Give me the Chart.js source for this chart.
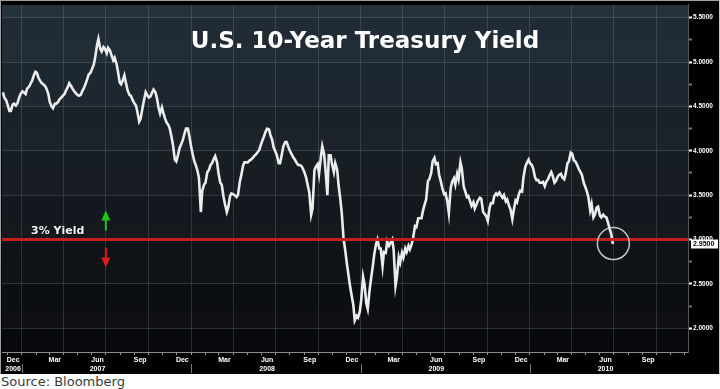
<!DOCTYPE html>
<html><head><meta charset="utf-8">
<script src="https://cdn.jsdelivr.net/npm/chart.js@4.4.1/dist/chart.umd.min.js"></script>
<style>
html,body{margin:0;padding:0;background:#fff;}
#wrap{position:relative;width:720px;height:374px;background:#000;}
#src{font-family:"DejaVu Sans",sans-serif;font-size:13px;color:#3a3a3a;margin:0;padding:0 0 0 1px;line-height:15px;height:15px;white-space:nowrap;}
</style></head><body>
<div id="wrap"><canvas id="c"></canvas></div>
<div id="src">Source: Bloomberg</div>
<script>
// ---------- data ----------
// week-ending Fridays; each week has a mid-week (Tuesday) reading and a Friday reading
const weekEnding = [
"2006-11-24","2006-12-01","2006-12-08","2006-12-15","2006-12-22","2006-12-29",
"2007-01-05","2007-01-12","2007-01-19","2007-01-26","2007-02-02","2007-02-09","2007-02-16","2007-02-23",
"2007-03-02","2007-03-09","2007-03-16","2007-03-23","2007-03-30","2007-04-06","2007-04-13","2007-04-20","2007-04-27",
"2007-05-04","2007-05-11","2007-05-18","2007-05-25","2007-06-01","2007-06-08","2007-06-15","2007-06-22","2007-06-29",
"2007-07-06","2007-07-13","2007-07-20","2007-07-27","2007-08-03","2007-08-10","2007-08-17","2007-08-24","2007-08-31",
"2007-09-07","2007-09-14","2007-09-21","2007-09-28","2007-10-05","2007-10-12","2007-10-19","2007-10-26",
"2007-11-02","2007-11-09","2007-11-16","2007-11-23","2007-11-30","2007-12-07","2007-12-14","2007-12-21","2007-12-28",
"2008-01-04","2008-01-11","2008-01-18","2008-01-25","2008-02-01","2008-02-08","2008-02-15","2008-02-22","2008-02-29",
"2008-03-07","2008-03-14","2008-03-21","2008-03-28","2008-04-04","2008-04-11","2008-04-18","2008-04-25",
"2008-05-02","2008-05-09","2008-05-16","2008-05-23","2008-05-30","2008-06-06","2008-06-13","2008-06-20","2008-06-27",
"2008-07-04","2008-07-11","2008-07-18","2008-07-25","2008-08-01","2008-08-08","2008-08-15","2008-08-22","2008-08-29",
"2008-09-05","2008-09-12","2008-09-19","2008-09-26","2008-10-03","2008-10-10","2008-10-17","2008-10-24","2008-10-31",
"2008-11-07","2008-11-14","2008-11-21","2008-11-28","2008-12-05","2008-12-12","2008-12-19","2008-12-26",
"2009-01-02","2009-01-09","2009-01-16","2009-01-23","2009-01-30","2009-02-06","2009-02-13","2009-02-20","2009-02-27",
"2009-03-06","2009-03-13","2009-03-20","2009-03-27","2009-04-03","2009-04-10","2009-04-17","2009-04-24",
"2009-05-01","2009-05-08","2009-05-15","2009-05-22","2009-05-29","2009-06-05","2009-06-12","2009-06-19","2009-06-26",
"2009-07-03","2009-07-10","2009-07-17","2009-07-24","2009-07-31","2009-08-07","2009-08-14","2009-08-21","2009-08-28",
"2009-09-04","2009-09-11","2009-09-18","2009-09-25","2009-10-02","2009-10-09","2009-10-16","2009-10-23","2009-10-30",
"2009-11-06","2009-11-13","2009-11-20","2009-11-27","2009-12-04","2009-12-11","2009-12-18","2009-12-25",
"2010-01-01","2010-01-08","2010-01-15","2010-01-22","2010-01-29","2010-02-05","2010-02-12","2010-02-19","2010-02-26",
"2010-03-05","2010-03-12","2010-03-19","2010-03-26","2010-04-02","2010-04-09","2010-04-16","2010-04-23","2010-04-30",
"2010-05-07","2010-05-14","2010-05-21","2010-05-28","2010-06-04","2010-06-11","2010-06-18","2010-06-25"
];
const midweekYield = [
4.66,
4.57,4.45,4.52,4.51,4.60,4.67,4.64,4.72,4.79,4.89,
4.82,4.76,4.73,4.64,4.50,4.53,4.55,4.60,4.64,4.72,
4.73,4.67,4.63,4.63,4.71,4.81,4.88,4.97,5.19,5.15,
5.17,5.10,5.13,5.02,4.98,4.77,4.80,4.75,4.63,4.57,
4.51,4.33,4.48,4.66,4.60,4.66,4.66,4.48,4.49,4.36,
4.29,4.15,3.90,3.96,4.08,4.20,4.25,4.05,3.88,3.77,
3.31,3.62,3.76,3.84,3.91,3.87,3.64,3.48,3.31,3.49,
3.51,3.48,3.65,3.83,3.87,3.89,3.92,3.96,4.01,4.12,
4.22,4.24,4.12,3.99,3.86,3.97,4.10,4.04,3.96,3.90,
3.84,3.83,3.75,3.60,3.28,3.78,3.85,3.93,3.96,3.50,
3.95,3.76,3.79,3.45,3.00,2.73,2.47,2.26,2.14,2.19,
2.58,2.28,2.43,2.70,2.95,2.90,2.70,2.85,2.93,3.00,
2.48,2.80,2.85,2.90,2.93,2.95,3.15,3.24,3.24,3.40,
3.66,3.75,3.92,3.86,3.65,3.51,3.42,3.58,3.69,3.74,
3.87,3.60,3.48,3.43,3.42,3.40,3.47,3.31,3.26,3.36,
3.41,3.52,3.53,3.47,3.43,3.38,3.23,3.44,3.51,3.54,
3.82,3.90,3.84,3.70,3.67,3.64,3.60,3.68,3.76,3.64,
3.71,3.74,3.68,3.86,3.98,3.89,3.84,3.76,3.64,3.54,
3.33,3.25,3.36,3.27,3.28,3.25,3.12
];
const fridayYield = [
4.60,4.52,4.45,4.53,4.53,4.64,
4.66,4.70,4.75,4.84,4.88,4.79,4.75,4.70,
4.55,4.48,4.53,4.58,4.62,4.68,4.76,4.70,4.65,
4.62,4.67,4.75,4.86,4.92,5.05,5.26,5.12,5.15,
5.16,5.08,5.05,4.90,4.75,4.85,4.68,4.62,4.54,
4.44,4.36,4.56,4.63,4.61,4.69,4.60,4.42,
4.43,4.32,4.25,4.06,3.88,4.03,4.12,4.25,4.17,
3.97,3.84,3.69,3.55,3.64,3.78,3.86,3.94,3.75,
3.62,3.40,3.36,3.52,3.50,3.50,3.72,3.87,
3.87,3.90,3.94,3.98,4.06,4.16,4.25,4.18,4.04,
3.95,3.86,4.05,4.10,4.00,3.93,3.87,3.84,3.80,
3.70,3.53,3.35,3.82,3.74,4.05,3.78,3.95,3.85,
3.86,3.62,3.30,2.90,2.62,2.38,2.09,2.12,
2.32,2.50,2.22,2.55,2.83,3.00,2.90,2.86,2.98,
2.96,2.88,2.58,2.74,2.80,2.86,2.89,3.02,
3.14,3.24,3.32,3.45,3.68,3.88,3.85,3.73,3.58,
3.52,3.30,3.65,3.62,3.68,3.80,3.55,3.49,3.38,
3.35,3.44,3.46,3.29,3.21,3.41,3.49,3.50,3.50,
3.50,3.45,3.34,3.33,3.42,3.55,3.70,3.86,
3.86,3.80,3.67,3.64,3.65,3.65,3.72,3.72,3.66,
3.73,3.70,3.74,3.88,3.97,3.88,3.80,3.73,3.60,
3.48,3.40,3.28,3.37,3.25,3.26,3.20,3.07
];
const finalDate = "2010-06-29";
const finalYield = 2.95;

const thresholdYield = 3.0;
const thresholdLabel = "3% Yield";
const titleText = "U.S. 10-Year Treasury Yield";
const circleMark = {date:"2010-06-30", value:2.955};
const arrowDate = "2007-07-01";

const xRange = ["2006-11-19","2010-12-08"];
const yRange = [1.733, 5.644];
const quarterDates = ["2007-01-01","2007-04-01","2007-07-01","2007-10-01","2008-01-01","2008-04-01","2008-07-01","2008-10-01",
"2009-01-01","2009-04-01","2009-07-01","2009-10-01","2010-01-01","2010-04-01","2010-07-01","2010-10-01"];
const yearStarts = ["2007-01-01","2008-01-01","2009-01-01","2010-01-01"];
const labelDates = ["2006-12-13","2007-03-13","2007-06-13","2007-09-13","2007-12-13","2008-03-13","2008-06-13","2008-09-13",
"2008-12-13","2009-03-13","2009-06-13","2009-09-13","2009-12-13","2010-03-13","2010-06-13","2010-09-13"];
const labelMonths = ["Dec","Mar","Jun","Sep","Dec","Mar","Jun","Sep","Dec","Mar","Jun","Sep","Dec","Mar","Jun","Sep"];
const labelYears  = ["2006","","2007","","","","2008","","","","2009","","","","2010",""];
const yTickValues = [2.0,2.25,2.5,2.75,3.0,3.25,3.5,3.75,4.0,4.25,4.5,4.75,5.0,5.25,5.5];

// ---------- helpers ----------
const EPOCH = Date.UTC(2007,0,1);
function dayNum(s){const p=s.split('-').map(Number);return (Date.UTC(p[0],p[1]-1,p[2])-EPOCH)/86400000;}

const lineData = [];
weekEnding.forEach((d,i)=>{
  const f=dayNum(d);
  lineData.push({x:f-3,y:midweekYield[i]});
  lineData.push({x:f,y:fridayYield[i]});
});
lineData.push({x:dayNum(finalDate),y:finalYield});

const xKind = new Map();
const xLabel = new Map();
quarterDates.forEach(d=>xKind.set(dayNum(d),'g'));
for(let y=2006;y<=2010;y++){for(let m=1;m<=12;m++){
  const s=y+'-'+String(m).padStart(2,'0')+'-01';const v=dayNum(s);
  if(v>dayNum(xRange[0]) && v<dayNum(xRange[1]) && !xKind.has(v)) xKind.set(v,'m');}}
labelDates.forEach((d,i)=>{const v=dayNum(d);xKind.set(v,'l');xLabel.set(v,[labelMonths[i],labelYears[i]]);});
const xTickVals=[...xKind.keys()].sort((a,b)=>a-b);
const isMajorY = v => Math.abs(v*2-Math.round(v*2))<1e-6;
const gridCol = 'rgba(150,165,180,0.22)';

// ---------- plugins ----------
const bgPlugin = {
  id:'bg',
  beforeDraw(chart){
    const {ctx,chartArea:a,scales:{y}} = chart;
    ctx.save();
    ctx.beginPath();ctx.rect(a.left,a.top,a.right-a.left,a.bottom-a.top);ctx.clip();
    const top=[34,46,56], bot=[7,8,10];
    for(let v=1.5; v<6; v+=0.25){
      const y1=y.getPixelForValue(v+0.25), y2=y.getPixelForValue(v);
      const t=Math.min(1,Math.max(0,((y1+y2)/2-a.top)/(a.bottom-a.top)));
      const add = (Math.round(v/0.25)%2===0)?3:0;
      const c=top.map((c0,k)=>Math.round(c0+(bot[k]-c0)*t)+add);
      ctx.fillStyle='rgb('+c.join(',')+')';
      ctx.fillRect(a.left,y1,a.right-a.left,y2-y1+0.5);
    }
    ctx.restore();
  }
};
const overlayPlugin = {
  id:'overlay',
  afterDatasetsDraw(chart){
    const {ctx,chartArea:a,scales:{x,y}} = chart;
    ctx.save();
    ctx.strokeStyle='rgba(215,215,215,0.9)';ctx.lineWidth=1.5;
    ctx.beginPath();ctx.arc(x.getPixelForValue(dayNum(circleMark.date)),y.getPixelForValue(circleMark.value),16,0,Math.PI*2);ctx.stroke();
    ctx.fillStyle='#fff';ctx.font='bold 23px "DejaVu Sans"';ctx.textAlign='center';ctx.textBaseline='alphabetic';
    ctx.fillText(titleText,365,48);
    const y3=y.getPixelForValue(thresholdYield);
    ctx.font='bold 11px "DejaVu Sans"';ctx.textAlign='left';
    ctx.fillStyle='rgba(0,0,0,0.8)';ctx.fillText(thresholdLabel,32,y3-5);
    ctx.fillStyle='#f2f2f2';ctx.fillText(thresholdLabel,31,y3-6);
    const ax=x.getPixelForValue(dayNum(arrowDate));
    ctx.fillStyle='#1fc41f';
    ctx.fillRect(ax-1,y3-20,2,11);
    ctx.beginPath();ctx.moveTo(ax,y3-29);ctx.lineTo(ax-4.5,y3-19);ctx.lineTo(ax+4.5,y3-19);ctx.closePath();ctx.fill();
    ctx.fillStyle='#e01a1a';
    ctx.fillRect(ax-1,y3+8,2,11);
    ctx.beginPath();ctx.moveTo(ax,y3+28);ctx.lineTo(ax-4.5,y3+18);ctx.lineTo(ax+4.5,y3+18);ctx.closePath();ctx.fill();
    ctx.restore();
  },
  afterDraw(chart){
    const {ctx,chartArea:a,scales:{x,y}} = chart;
    ctx.save();
    const yl=y.getPixelForValue(finalYield);
    ctx.fillStyle='#fff';ctx.fillRect(a.right+3,yl-4.5,27,9);
    ctx.fillStyle='#000';ctx.font='bold 7px "Liberation Sans"';ctx.textAlign='left';ctx.textBaseline='middle';
    ctx.fillText(finalYield.toFixed(4),a.right+5,yl+0.5);
    ctx.strokeStyle='#777';ctx.lineWidth=1;
    yearStarts.forEach(d=>{const px=Math.round(x.getPixelForValue(dayNum(d)))+0.5;ctx.beginPath();ctx.moveTo(px,a.bottom+12);ctx.lineTo(px,a.bottom+21);ctx.stroke();});
    ctx.strokeStyle='#9aa0a6';
    ctx.beginPath();ctx.moveTo(0,0.5);ctx.lineTo(720,0.5);ctx.stroke();
    ctx.beginPath();ctx.moveTo(0.5,0);ctx.lineTo(0.5,374);ctx.stroke();
    ctx.strokeStyle='#c8c8c8';
    ctx.beginPath();ctx.moveTo(719.5,0);ctx.lineTo(719.5,374);ctx.stroke();
    ctx.restore();
  }
};

// ---------- chart ----------
new Chart(document.getElementById('c'),{
  type:'line',
  data:{datasets:[
    {label:'10Y',data:lineData,borderColor:'#ececec',borderWidth:2.6,pointRadius:0,tension:0,order:2,borderJoinStyle:'miter'},
    {label:'3%',data:[{x:dayNum(xRange[0]),y:thresholdYield},{x:dayNum(xRange[1]),y:thresholdYield}],borderColor:'#c81d1d',borderWidth:3,pointRadius:0,order:1}
  ]},
  options:{
    responsive:true,maintainAspectRatio:false,animation:false,
    layout:{padding:{left:2,top:0,right:0,bottom:0}},
    plugins:{legend:{display:false},tooltip:{enabled:false}},
    events:[],
    scales:{
      x:{type:'linear',position:'bottom',min:dayNum(xRange[0]),max:dayNum(xRange[1]),
        afterBuildTicks(s){s.ticks=xTickVals.map(v=>({value:v}));},
        afterFit(s){s.height=22;},
        grid:{color:c=>c.tick&&xKind.get(c.tick.value)==='g'?gridCol:'rgba(0,0,0,0)',
              tickColor:c=>c.tick&&xKind.get(c.tick.value)!=='l'?'#9a9a9a':'rgba(0,0,0,0)',
              tickLength:3,drawTicks:true,lineWidth:1},
        border:{display:true,color:'#8c8c8c',width:1},
        ticks:{autoSkip:false,maxRotation:0,minRotation:0,color:'#fff',padding:1,
          font:{family:'"Liberation Sans"',size:7,weight:'bold',lineHeight:1.2},
          callback:v=>xLabel.has(v)?xLabel.get(v):''}
      },
      y:{position:'right',min:yRange[0],max:yRange[1],
        afterBuildTicks(s){s.ticks=yTickValues.map(v=>({value:v}));},
        afterFit(s){s.width=32;},
        grid:{color:c=>c.tick&&isMajorY(c.tick.value)?gridCol:'rgba(0,0,0,0)',
              tickColor:c=>c.tick&&isMajorY(c.tick.value)?'#ffffff':'#777',
              tickLength:4,drawTicks:true,lineWidth:1,tickWidth:2},
        border:{display:true,color:'#555'},
        ticks:{color:'#fff',padding:1,font:{family:'"Liberation Sans"',size:6.5,weight:'bold'},
          callback:v=>isMajorY(v)?v.toFixed(4):''}
      }
    }
  },
  plugins:[bgPlugin,overlayPlugin]
});
</script>
</body></html>
